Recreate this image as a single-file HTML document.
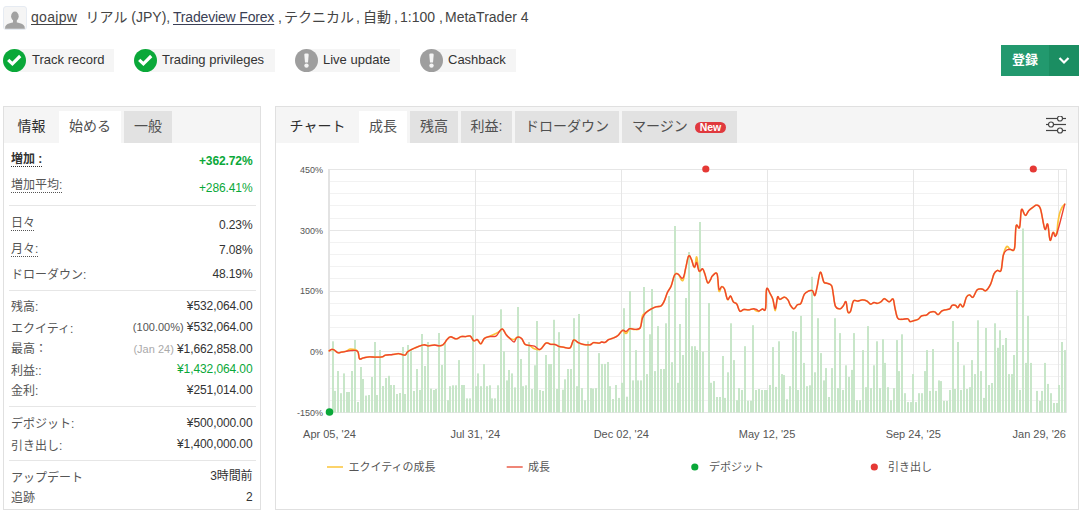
<!DOCTYPE html>
<html><head><meta charset="utf-8">
<style>
*{box-sizing:border-box;margin:0;padding:0}
html,body{width:1082px;height:515px;overflow:hidden;background:#fff}
body{position:relative;font-family:"Liberation Sans","Noto Sans CJK JP",sans-serif;color:#333;font-size:12px}
.a{position:absolute;white-space:nowrap}
.jp{font-family:"Noto Sans CJK JP","Liberation Sans",sans-serif}
.hd{top:8px;font-size:14px;line-height:18px;color:#444}
.hd u{text-decoration:underline;text-underline-offset:2px;text-decoration-skip-ink:none}
.badge{position:absolute;top:49px;height:23px;background:#f5f5f5}
.bic{position:absolute;top:49px;width:23px;height:23px;border-radius:50%}
.btxt{position:absolute;white-space:nowrap;top:48px;line-height:23px;font-size:13px;color:#333}
.panel{position:absolute;border:1px solid #e0e0e0;background:#fff}
.tabbar{position:absolute;left:0;right:0;top:0;height:36px;background:#f5f5f5}
.tab{position:absolute;white-space:nowrap;top:4px;height:32px;line-height:30px;font-size:14px;text-align:center;color:#505050}
.row{position:absolute;left:8px;width:240px;height:20px;line-height:20px}
.lb{position:absolute;left:11px;line-height:20px;color:#555;white-space:nowrap}
.vl{position:absolute;right:829.5px;line-height:20px;letter-spacing:-0.1px;color:#333;white-space:nowrap}
.sep{position:absolute;left:5px;width:247px;height:1px;background:#e6e6e6}
.dot{text-decoration:underline dotted;text-underline-offset:3px}
</style></head><body>
<!-- avatar -->
<div class="a" style="left:3px;top:6px;width:24px;height:24px;border:1px solid #e6ebf2;border-radius:3px;background:#f5f5f5"></div>
<svg class="a" style="left:0;top:0" width="30" height="32"><ellipse cx="14.9" cy="16.3" rx="3.8" ry="4.7" fill="#a2a2a2"/><path d="M5 28.7 L5.3 26.6 C5.8 24.2 8.5 23.3 12.5 22.4 L17.3 22.4 C21.3 23.3 24 24.2 24.5 26.6 L24.9 28.7 Z" fill="#a2a2a2"/><rect x="13" y="20" width="3.8" height="3" fill="#a2a2a2"/></svg>
<div class="a hd" style="left:31px;letter-spacing:0.3px"><u>qoajpw</u></div>
<div class="a hd" style="left:85.6px">リアル (JPY),</div>
<div class="a hd" style="left:173px;letter-spacing:-0.17px"><u style="color:#3b3f55">Tradeview Forex</u></div>
<div class="a hd" style="left:278px">,</div>
<div class="a hd" style="left:284px">テクニカル</div>
<div class="a hd" style="left:356px">,</div>
<div class="a hd" style="left:363px">自動</div>
<div class="a hd" style="left:394px">,</div>
<div class="a hd" style="left:400px">1:100</div>
<div class="a hd" style="left:439px">,</div>
<div class="a hd" style="left:445px">MetaTrader 4</div>

<!-- badges -->
<div class="badge" style="left:14px;width:100px"></div>
<div class="bic" style="left:3px;background:#0aa839"><svg width="23" height="23"><path d="M5.2 10.8 L9.4 14.8 L17.2 7" stroke="#fff" stroke-width="3.2" fill="none"/></svg></div>
<div class="btxt" style="left:32px">Track record</div>

<div class="badge" style="left:145px;width:130px"></div>
<div class="bic" style="left:134px;background:#0aa839"><svg width="23" height="23"><path d="M5.2 10.8 L9.4 14.8 L17.2 7" stroke="#fff" stroke-width="3.2" fill="none"/></svg></div>
<div class="btxt" style="left:162px">Trading privileges</div>

<div class="badge" style="left:306px;width:94px"></div>
<div class="bic" style="left:295px;background:#9e9e9e"><svg width="23" height="23"><path d="M9.3 5.8 Q9.3 4.4 10.7 4.4 L12.3 4.4 Q13.7 4.4 13.7 5.8 L13 13.6 L10 13.6 Z" fill="#f4f4f4"/><circle cx="11.5" cy="16.6" r="2.2" fill="#f4f4f4"/></svg></div>
<div class="btxt" style="left:323px">Live update</div>

<div class="badge" style="left:431px;width:85px"></div>
<div class="bic" style="left:420px;background:#9e9e9e"><svg width="23" height="23"><path d="M9.3 5.8 Q9.3 4.4 10.7 4.4 L12.3 4.4 Q13.7 4.4 13.7 5.8 L13 13.6 L10 13.6 Z" fill="#f4f4f4"/><circle cx="11.5" cy="16.6" r="2.2" fill="#f4f4f4"/></svg></div>
<div class="btxt" style="left:448px">Cashback</div>

<!-- register button -->
<div class="a" style="left:1001px;top:45px;width:48px;height:31px;background:#22996e;color:#fff;font-size:13px;font-weight:bold;line-height:28px;text-align:center" ><span class="jp">登録</span></div>
<div class="a" style="left:1049px;top:45px;width:30px;height:31px;background:#1b8e62"><svg width="30" height="31"><path d="M10.5 13 L15 17.5 L19.5 13" stroke="#fff" stroke-width="2.2" fill="none"/></svg></div>

<!-- left panel -->
<div class="panel" style="left:3px;top:106px;width:258px;height:404px">
 <div class="tabbar">
  <div class="tab" style="left:0;width:55px;color:#2e2e2e">情報</div>
  <div class="tab" style="left:55px;width:62px;background:#fff">始める</div>
  <div class="tab" style="left:120px;width:48px;background:#e2e2e2">一般</div>
 </div>
</div>
<div class="a" style="left:0;top:0;width:1082px;height:515px">
 <div class="lb" style="top:148.9px"><span class="dot" style="color:#333;font-weight:bold">増加 :</span></div><div class="vl" style="top:151.3px"><span style="color:#0aa839;font-weight:bold">+362.72%</span></div>
 <div class="lb" style="top:175.1px"><span class="dot">増加平均:</span></div><div class="vl" style="top:177.5px"><span style="color:#0aa839">+286.41%</span></div>
 <div class="lb" style="top:212.5px"><span class="dot">日々</span></div><div class="vl" style="top:214.5px">0.23%</div>
 <div class="lb" style="top:239.2px"><span class="dot">月々:</span></div><div class="vl" style="top:240.0px">7.08%</div>
 <div class="lb" style="top:264.9px">ドローダウン:</div><div class="vl" style="top:264.1px">48.19%</div>
 <div class="lb" style="top:297.2px">残高:</div><div class="vl" style="top:296.4px">¥532,064.00</div>
 <div class="lb" style="top:318.6px">エクイティ:</div><div class="vl" style="top:317.1px"><span style="color:#555;font-size:11px;letter-spacing:0">(100.00%)</span> ¥532,064.00</div>
 <div class="lb" style="top:338.8px">最高：</div><div class="vl" style="top:338.5px"><span style="color:#aaa;font-size:11px;letter-spacing:0">(Jan 24)</span> ¥1,662,858.00</div>
 <div class="lb" style="top:360.5px">利益::</div><div class="vl" style="top:358.9px"><span style="color:#0aa839">¥1,432,064.00</span></div>
 <div class="lb" style="top:380.9px">金利:</div><div class="vl" style="top:380.3px">¥251,014.00</div>
 <div class="lb" style="top:413.8px">デポジット:</div><div class="vl" style="top:413.1px">¥500,000.00</div>
 <div class="lb" style="top:435.7px">引き出し:</div><div class="vl" style="top:433.7px">¥1,400,000.00</div>
 <div class="lb" style="top:467.5px">アップデート</div><div class="vl" style="top:466.2px">3時間前</div>
 <div class="lb" style="top:488.2px">追跡</div><div class="vl" style="top:487.2px">2</div>
 <div class="sep" style="left:9px;top:205px"></div>
 <div class="sep" style="left:9px;top:290px"></div>
 <div class="sep" style="left:9px;top:406px"></div>
 <div class="sep" style="left:9px;top:460px"></div>
</div>
<!-- chart panel -->
<div class="panel" style="left:275px;top:106px;width:804px;height:404px">
 <div class="tabbar">
  <div class="tab" style="left:0;width:83px;color:#2e2e2e">チャート</div>
  <div class="tab" style="left:83px;width:48px;background:#fff">成長</div>
  <div class="tab" style="left:134px;width:48px;background:#e2e2e2">残高</div>
  <div class="tab" style="left:185px;width:51px;background:#e2e2e2">利益:</div>
  <div class="tab" style="left:239px;width:104px;background:#e2e2e2">ドローダウン</div>
  <div class="tab" style="left:346px;width:115px;background:#e2e2e2;text-align:left;padding-left:10px">マージン <span style="display:inline-block;background:#e0393e;color:#fff;font-size:10.5px;font-weight:bold;line-height:11px;height:11px;padding:0 5px;border-radius:5.5px;vertical-align:0px;margin-left:3px">New</span></div>
  <svg class="a" style="left:768.5px;top:9px" width="22" height="18"><g stroke="#444" stroke-width="1.2" fill="#fff"><line x1="1" y1="2.5" x2="21" y2="2.5"/><line x1="1" y1="8.5" x2="21" y2="8.5"/><line x1="1" y1="14.5" x2="21" y2="14.5"/><circle cx="15" cy="2.5" r="2.5"/><circle cx="6" cy="8.5" r="2.5"/><circle cx="15" cy="14.5" r="2.5"/></g></svg>
 </div>
</div>
<svg id="chart" class="a" style="left:0;top:0;font-family:'Liberation Sans','Noto Sans CJK JP',sans-serif" width="1082" height="515">
<line x1="329.5" x2="1066.5" y1="412.5" y2="412.5" stroke="#e6e6e6" stroke-width="1"/>
<line x1="329.5" x2="1066.5" y1="400.5" y2="400.5" stroke="#f2f2f2" stroke-width="1"/>
<line x1="329.5" x2="1066.5" y1="388.5" y2="388.5" stroke="#f2f2f2" stroke-width="1"/>
<line x1="329.5" x2="1066.5" y1="376.5" y2="376.5" stroke="#f2f2f2" stroke-width="1"/>
<line x1="329.5" x2="1066.5" y1="364.5" y2="364.5" stroke="#f2f2f2" stroke-width="1"/>
<line x1="329.5" x2="1066.5" y1="351.5" y2="351.5" stroke="#e6e6e6" stroke-width="1"/>
<line x1="329.5" x2="1066.5" y1="339.5" y2="339.5" stroke="#f2f2f2" stroke-width="1"/>
<line x1="329.5" x2="1066.5" y1="327.5" y2="327.5" stroke="#f2f2f2" stroke-width="1"/>
<line x1="329.5" x2="1066.5" y1="315.5" y2="315.5" stroke="#f2f2f2" stroke-width="1"/>
<line x1="329.5" x2="1066.5" y1="303.5" y2="303.5" stroke="#f2f2f2" stroke-width="1"/>
<line x1="329.5" x2="1066.5" y1="291.5" y2="291.5" stroke="#e6e6e6" stroke-width="1"/>
<line x1="329.5" x2="1066.5" y1="278.5" y2="278.5" stroke="#f2f2f2" stroke-width="1"/>
<line x1="329.5" x2="1066.5" y1="266.5" y2="266.5" stroke="#f2f2f2" stroke-width="1"/>
<line x1="329.5" x2="1066.5" y1="254.5" y2="254.5" stroke="#f2f2f2" stroke-width="1"/>
<line x1="329.5" x2="1066.5" y1="242.5" y2="242.5" stroke="#f2f2f2" stroke-width="1"/>
<line x1="329.5" x2="1066.5" y1="230.5" y2="230.5" stroke="#e6e6e6" stroke-width="1"/>
<line x1="329.5" x2="1066.5" y1="218.5" y2="218.5" stroke="#f2f2f2" stroke-width="1"/>
<line x1="329.5" x2="1066.5" y1="205.5" y2="205.5" stroke="#f2f2f2" stroke-width="1"/>
<line x1="329.5" x2="1066.5" y1="193.5" y2="193.5" stroke="#f2f2f2" stroke-width="1"/>
<line x1="329.5" x2="1066.5" y1="181.5" y2="181.5" stroke="#f2f2f2" stroke-width="1"/>
<line x1="329.5" x2="1066.5" y1="169.5" y2="169.5" stroke="#e6e6e6" stroke-width="1"/>
<line x1="475.5" x2="475.5" y1="169" y2="413" stroke="#e6e6e6" stroke-width="1"/>
<line x1="621.5" x2="621.5" y1="169" y2="413" stroke="#e6e6e6" stroke-width="1"/>
<line x1="767.5" x2="767.5" y1="169" y2="413" stroke="#e6e6e6" stroke-width="1"/>
<line x1="913.5" x2="913.5" y1="169" y2="413" stroke="#e6e6e6" stroke-width="1"/>
<line x1="1058.5" x2="1058.5" y1="169" y2="413" stroke="#e6e6e6" stroke-width="1"/>
<line x1="1066.5" x2="1066.5" y1="169" y2="413" stroke="#e6e6e6" stroke-width="1"/>
<line x1="329" x2="329" y1="169" y2="413" stroke="#e3e3e3" stroke-width="2"/>
<g fill="#c8e6c9"><rect x="332" y="341.3" width="2" height="71.2"/><rect x="334" y="390.9" width="2" height="21.6"/><rect x="337" y="371.0" width="2" height="41.5"/><rect x="340" y="393.2" width="2" height="19.3"/><rect x="343" y="373.4" width="2" height="39.1"/><rect x="346" y="392.0" width="2" height="20.5"/><rect x="348" y="392.0" width="2" height="20.5"/><rect x="351" y="371.0" width="2" height="41.5"/><rect x="354" y="340.0" width="2" height="72.5"/><rect x="357" y="402.0" width="2" height="10.5"/><rect x="360" y="367.0" width="2" height="45.5"/><rect x="362" y="379.0" width="2" height="33.5"/><rect x="365" y="395.6" width="2" height="16.9"/><rect x="368" y="395.0" width="2" height="17.5"/><rect x="371" y="377.0" width="2" height="35.5"/><rect x="374" y="342.0" width="2" height="70.5"/><rect x="376" y="395.0" width="2" height="17.5"/><rect x="379" y="350.0" width="2" height="62.5"/><rect x="382" y="386.0" width="2" height="26.5"/><rect x="385" y="378.0" width="2" height="34.5"/><rect x="388" y="375.8" width="2" height="36.7"/><rect x="390" y="385.0" width="2" height="27.5"/><rect x="393" y="385.0" width="2" height="27.5"/><rect x="396" y="394.0" width="2" height="18.5"/><rect x="399" y="393.0" width="2" height="19.5"/><rect x="402" y="347.0" width="2" height="65.5"/><rect x="404" y="394.0" width="2" height="18.5"/><rect x="407" y="345.0" width="2" height="67.5"/><rect x="410" y="349.0" width="2" height="63.5"/><rect x="413" y="391.0" width="2" height="21.5"/><rect x="416" y="369.0" width="2" height="43.5"/><rect x="419" y="390.0" width="2" height="22.5"/><rect x="421" y="334.0" width="2" height="78.5"/><rect x="424" y="366.0" width="2" height="46.5"/><rect x="427" y="342.0" width="2" height="70.5"/><rect x="430" y="388.6" width="2" height="23.9"/><rect x="433" y="390.0" width="2" height="22.5"/><rect x="435" y="389.0" width="2" height="23.5"/><rect x="438" y="333.0" width="2" height="79.5"/><rect x="441" y="365.0" width="2" height="47.5"/><rect x="444" y="342.0" width="2" height="70.5"/><rect x="447" y="400.2" width="2" height="12.3"/><rect x="449" y="386.2" width="2" height="26.3"/><rect x="452" y="385.3" width="2" height="27.2"/><rect x="455" y="385.3" width="2" height="27.2"/><rect x="458" y="360.1" width="2" height="52.4"/><rect x="461" y="385.0" width="2" height="27.5"/><rect x="463" y="385.0" width="2" height="27.5"/><rect x="466" y="398.4" width="2" height="14.1"/><rect x="469" y="398.4" width="2" height="14.1"/><rect x="472" y="315.2" width="2" height="97.3"/><rect x="475" y="386.2" width="2" height="26.3"/><rect x="477" y="373.4" width="2" height="39.1"/><rect x="480" y="386.2" width="2" height="26.3"/><rect x="483" y="364.1" width="2" height="48.4"/><rect x="486" y="386.2" width="2" height="26.3"/><rect x="489" y="385.3" width="2" height="27.2"/><rect x="491" y="398.4" width="2" height="14.1"/><rect x="494" y="398.4" width="2" height="14.1"/><rect x="497" y="385.3" width="2" height="27.2"/><rect x="500" y="309.3" width="2" height="103.2"/><rect x="503" y="351.3" width="2" height="61.2"/><rect x="506" y="380.4" width="2" height="32.1"/><rect x="508" y="370.0" width="2" height="42.5"/><rect x="511" y="373.4" width="2" height="39.1"/><rect x="514" y="387.4" width="2" height="25.1"/><rect x="517" y="307.0" width="2" height="105.5"/><rect x="520" y="359.0" width="2" height="53.5"/><rect x="522" y="386.2" width="2" height="26.3"/><rect x="525" y="385.3" width="2" height="27.2"/><rect x="528" y="342.0" width="2" height="70.5"/><rect x="531" y="389.0" width="2" height="23.5"/><rect x="534" y="365.3" width="2" height="47.2"/><rect x="536" y="321.0" width="2" height="91.5"/><rect x="539" y="390.0" width="2" height="22.5"/><rect x="542" y="391.0" width="2" height="21.5"/><rect x="545" y="355.0" width="2" height="57.5"/><rect x="548" y="364.0" width="2" height="48.5"/><rect x="550" y="364.0" width="2" height="48.5"/><rect x="553" y="319.8" width="2" height="92.7"/><rect x="556" y="389.0" width="2" height="23.5"/><rect x="558" y="332.2" width="2" height="80.3"/><rect x="562" y="389.7" width="2" height="22.8"/><rect x="564" y="379.3" width="2" height="33.2"/><rect x="567" y="369.0" width="2" height="43.5"/><rect x="570" y="369.0" width="2" height="43.5"/><rect x="573" y="318.2" width="2" height="94.3"/><rect x="576" y="386.2" width="2" height="26.3"/><rect x="578" y="314.0" width="2" height="98.5"/><rect x="581" y="388.1" width="2" height="24.4"/><rect x="584" y="400.2" width="2" height="12.3"/><rect x="587" y="341.3" width="2" height="71.2"/><rect x="590" y="388.1" width="2" height="24.4"/><rect x="592" y="388.6" width="2" height="23.9"/><rect x="595" y="388.1" width="2" height="24.4"/><rect x="598" y="353.1" width="2" height="59.4"/><rect x="601" y="363.9" width="2" height="48.6"/><rect x="604" y="363.9" width="2" height="48.6"/><rect x="607" y="362.0" width="2" height="50.5"/><rect x="609" y="386.2" width="2" height="26.3"/><rect x="612" y="399.0" width="2" height="13.5"/><rect x="615" y="385.0" width="2" height="27.5"/><rect x="618" y="397.9" width="2" height="14.6"/><rect x="621" y="382.8" width="2" height="29.7"/><rect x="623" y="308.2" width="2" height="104.3"/><rect x="626" y="396.7" width="2" height="15.8"/><rect x="629" y="291.0" width="2" height="121.5"/><rect x="632" y="380.4" width="2" height="32.1"/><rect x="635" y="350.1" width="2" height="62.4"/><rect x="637" y="380.4" width="2" height="32.1"/><rect x="640" y="380.4" width="2" height="32.1"/><rect x="643" y="287.0" width="2" height="125.5"/><rect x="646" y="374.1" width="2" height="38.4"/><rect x="649" y="334.3" width="2" height="78.2"/><rect x="651" y="289.0" width="2" height="123.5"/><rect x="654" y="371.1" width="2" height="41.4"/><rect x="657" y="326.1" width="2" height="86.4"/><rect x="660" y="369.0" width="2" height="43.5"/><rect x="663" y="369.0" width="2" height="43.5"/><rect x="665" y="323.3" width="2" height="89.2"/><rect x="668" y="296.0" width="2" height="116.5"/><rect x="671" y="362.2" width="2" height="50.3"/><rect x="674" y="226.0" width="2" height="186.5"/><rect x="677" y="382.8" width="2" height="29.7"/><rect x="679" y="324.0" width="2" height="88.5"/><rect x="682" y="355.0" width="2" height="57.5"/><rect x="685" y="298.0" width="2" height="114.5"/><rect x="688" y="252.0" width="2" height="160.5"/><rect x="691" y="346.2" width="2" height="66.3"/><rect x="694" y="346.2" width="2" height="66.3"/><rect x="696" y="350.1" width="2" height="62.4"/><rect x="699" y="222.0" width="2" height="190.5"/><rect x="702" y="351.7" width="2" height="60.8"/><rect x="708" y="303.0" width="2" height="109.5"/><rect x="710" y="382.8" width="2" height="29.7"/><rect x="713" y="381.1" width="2" height="31.4"/><rect x="716" y="397.0" width="2" height="15.5"/><rect x="719" y="397.0" width="2" height="15.5"/><rect x="722" y="356.0" width="2" height="56.5"/><rect x="724" y="397.9" width="2" height="14.6"/><rect x="727" y="372.3" width="2" height="40.2"/><rect x="730" y="323.3" width="2" height="89.2"/><rect x="733" y="360.1" width="2" height="52.4"/><rect x="736" y="400.2" width="2" height="12.3"/><rect x="738" y="388.1" width="2" height="24.4"/><rect x="741" y="390.0" width="2" height="22.5"/><rect x="744" y="346.2" width="2" height="66.3"/><rect x="747" y="400.7" width="2" height="11.8"/><rect x="750" y="400.7" width="2" height="11.8"/><rect x="752" y="325.2" width="2" height="87.3"/><rect x="755" y="390.0" width="2" height="22.5"/><rect x="758" y="389.0" width="2" height="23.5"/><rect x="761" y="390.0" width="2" height="22.5"/><rect x="764" y="390.0" width="2" height="22.5"/><rect x="766" y="390.0" width="2" height="22.5"/><rect x="769" y="385.0" width="2" height="27.5"/><rect x="772" y="347.1" width="2" height="65.4"/><rect x="775" y="386.9" width="2" height="25.6"/><rect x="778" y="341.3" width="2" height="71.2"/><rect x="781" y="374.1" width="2" height="38.4"/><rect x="783" y="375.1" width="2" height="37.4"/><rect x="786" y="399.3" width="2" height="13.2"/><rect x="789" y="386.2" width="2" height="26.3"/><rect x="792" y="331.0" width="2" height="81.5"/><rect x="795" y="331.9" width="2" height="80.6"/><rect x="797" y="390.0" width="2" height="22.5"/><rect x="800" y="315.9" width="2" height="96.6"/><rect x="803" y="362.9" width="2" height="49.6"/><rect x="806" y="386.2" width="2" height="26.3"/><rect x="809" y="385.3" width="2" height="27.2"/><rect x="811" y="276.8" width="2" height="135.7"/><rect x="814" y="372.3" width="2" height="40.2"/><rect x="817" y="318.2" width="2" height="94.3"/><rect x="820" y="353.1" width="2" height="59.4"/><rect x="823" y="380.4" width="2" height="32.1"/><rect x="825" y="368.1" width="2" height="44.4"/><rect x="828" y="397.0" width="2" height="15.5"/><rect x="831" y="368.1" width="2" height="44.4"/><rect x="834" y="318.2" width="2" height="94.3"/><rect x="837" y="388.1" width="2" height="24.4"/><rect x="839" y="333.1" width="2" height="79.4"/><rect x="842" y="390.0" width="2" height="22.5"/><rect x="845" y="365.3" width="2" height="47.2"/><rect x="848" y="376.9" width="2" height="35.6"/><rect x="851" y="369.9" width="2" height="42.6"/><rect x="853" y="333.1" width="2" height="79.4"/><rect x="856" y="400.2" width="2" height="12.3"/><rect x="859" y="400.2" width="2" height="12.3"/><rect x="862" y="350.1" width="2" height="62.4"/><rect x="865" y="387.2" width="2" height="25.3"/><rect x="867" y="326.1" width="2" height="86.4"/><rect x="870" y="388.1" width="2" height="24.4"/><rect x="873" y="365.3" width="2" height="47.2"/><rect x="876" y="341.3" width="2" height="71.2"/><rect x="879" y="388.1" width="2" height="24.4"/><rect x="882" y="339.2" width="2" height="73.3"/><rect x="884" y="362.9" width="2" height="49.6"/><rect x="887" y="387.2" width="2" height="25.3"/><rect x="890" y="400.2" width="2" height="12.3"/><rect x="893" y="388.1" width="2" height="24.4"/><rect x="896" y="340.1" width="2" height="72.4"/><rect x="898" y="371.1" width="2" height="41.4"/><rect x="901" y="334.3" width="2" height="78.2"/><rect x="904" y="393.2" width="2" height="19.3"/><rect x="907" y="402.1" width="2" height="10.4"/><rect x="910" y="402.1" width="2" height="10.4"/><rect x="912" y="374.1" width="2" height="38.4"/><rect x="915" y="402.1" width="2" height="10.4"/><rect x="918" y="393.2" width="2" height="19.3"/><rect x="921" y="393.2" width="2" height="19.3"/><rect x="924" y="371.1" width="2" height="41.4"/><rect x="926" y="350.1" width="2" height="62.4"/><rect x="929" y="390.9" width="2" height="21.6"/><rect x="932" y="349.0" width="2" height="63.5"/><rect x="935" y="390.9" width="2" height="21.6"/><rect x="938" y="380.4" width="2" height="32.1"/><rect x="940" y="381.1" width="2" height="31.4"/><rect x="943" y="400.9" width="2" height="11.6"/><rect x="946" y="400.9" width="2" height="11.6"/><rect x="949" y="390.0" width="2" height="22.5"/><rect x="952" y="321.0" width="2" height="91.5"/><rect x="954" y="389.0" width="2" height="23.5"/><rect x="957" y="342.0" width="2" height="70.5"/><rect x="960" y="390.0" width="2" height="22.5"/><rect x="963" y="365.3" width="2" height="47.2"/><rect x="966" y="389.0" width="2" height="23.5"/><rect x="969" y="387.2" width="2" height="25.3"/><rect x="971" y="360.1" width="2" height="52.4"/><rect x="974" y="374.1" width="2" height="38.4"/><rect x="977" y="320.3" width="2" height="92.2"/><rect x="980" y="371.1" width="2" height="41.4"/><rect x="983" y="397.9" width="2" height="14.6"/><rect x="985" y="328.0" width="2" height="84.5"/><rect x="988" y="385.0" width="2" height="27.5"/><rect x="991" y="383.0" width="2" height="29.5"/><rect x="994" y="323.3" width="2" height="89.2"/><rect x="997" y="347.8" width="2" height="64.7"/><rect x="999" y="330.3" width="2" height="82.2"/><rect x="1002" y="345.0" width="2" height="67.5"/><rect x="1005" y="338.0" width="2" height="74.5"/><rect x="1008" y="374.1" width="2" height="38.4"/><rect x="1011" y="374.1" width="2" height="38.4"/><rect x="1013" y="355.0" width="2" height="57.5"/><rect x="1016" y="290.2" width="2" height="122.3"/><rect x="1019" y="390.0" width="2" height="22.5"/><rect x="1022" y="228.5" width="2" height="184.0"/><rect x="1025" y="362.9" width="2" height="49.6"/><rect x="1027" y="315.9" width="2" height="96.6"/><rect x="1030" y="362.9" width="2" height="49.6"/><rect x="1036" y="390.9" width="2" height="21.6"/><rect x="1039" y="400.9" width="2" height="11.6"/><rect x="1041" y="390.9" width="2" height="21.6"/><rect x="1044" y="362.9" width="2" height="49.6"/><rect x="1047" y="383.9" width="2" height="28.6"/><rect x="1050" y="393.2" width="2" height="19.3"/><rect x="1053" y="403.0" width="2" height="9.5"/><rect x="1056" y="403.0" width="2" height="9.5"/><rect x="1058" y="385.0" width="2" height="27.5"/><rect x="1061" y="342.0" width="2" height="70.5"/><rect x="1064" y="350.1" width="2" height="62.4"/></g>
<text x="323" y="172.7" text-anchor="end" font-size="9" fill="#555">450%</text>
<text x="323" y="233.5" text-anchor="end" font-size="9" fill="#555">300%</text>
<text x="323" y="294.3" text-anchor="end" font-size="9" fill="#555">150%</text>
<text x="323" y="355.1" text-anchor="end" font-size="9" fill="#555">0%</text>
<text x="323" y="415.9" text-anchor="end" font-size="9" fill="#555">-150%</text>
<path d="M329.2,350.8 C329.7,350.5 331.1,349.5 332.0,349.4 C332.9,349.3 333.3,349.4 334.3,350.0 C335.3,350.6 336.5,352.3 337.8,352.7 C339.1,353.1 339.8,352.5 341.3,352.2 C342.8,351.9 344.3,351.8 346.0,351.3 C347.7,350.8 348.5,349.2 350.6,349.2 C352.7,349.2 356.0,349.6 357.6,351.3 C359.2,353.0 358.4,357.5 359.5,358.7 C360.6,359.9 361.7,358.1 363.5,357.8 C365.3,357.5 367.2,357.0 369.3,356.9 C371.4,356.8 372.7,357.1 375.0,357.1 C377.3,357.1 380.1,357.2 382.0,356.9 C383.9,356.6 383.7,355.6 385.6,355.2 C387.5,354.8 390.3,354.8 392.6,354.5 C394.9,354.2 396.7,353.6 398.4,353.6 C400.1,353.6 400.7,354.2 402.0,354.5 C403.3,354.8 404.4,355.5 405.4,355.0 C406.4,354.5 406.2,352.9 407.7,351.7 C409.2,350.5 411.7,349.4 413.6,348.5 C415.5,347.6 416.3,347.3 418.2,346.6 C420.1,345.9 422.1,344.9 424.0,344.8 C425.9,344.7 426.8,345.9 428.7,345.9 C430.6,345.9 432.7,345.0 434.6,345.0 C436.5,345.0 437.7,345.9 439.2,345.9 C440.7,345.9 441.7,345.6 442.7,345.0 C443.7,344.4 444.2,343.5 445.0,342.5 C445.8,341.5 446.0,340.6 447.0,339.6 C448.0,338.6 448.8,336.9 450.5,336.8 C452.2,336.7 454.4,338.9 456.3,338.9 C458.2,338.9 459.3,337.0 461.0,336.6 C462.7,336.2 463.9,336.7 465.6,336.6 C467.3,336.5 468.8,335.3 470.3,336.1 C471.8,336.9 472.5,340.2 473.8,340.8 C475.1,341.4 476.0,339.1 477.3,339.6 C478.6,340.1 479.5,344.0 480.8,343.8 C482.1,343.6 482.8,339.8 484.3,338.5 C485.8,337.2 486.9,337.5 489.0,336.6 C491.1,335.7 494.1,334.4 496.0,333.5 C497.9,332.6 498.2,332.3 499.4,331.5 C500.6,330.7 501.2,328.5 502.5,329.1 C503.8,329.7 505.0,333.3 506.4,335.0 C507.8,336.7 508.6,337.7 510.0,338.5 C511.4,339.3 512.8,339.7 514.1,339.5 C515.4,339.3 515.6,337.5 517.0,337.3 C518.4,337.1 520.2,337.2 521.6,338.5 C523.0,339.8 523.5,343.0 525.0,344.3 C526.5,345.6 528.0,344.7 529.7,345.5 C531.4,346.3 532.5,348.1 534.4,348.8 C536.3,349.5 538.1,350.4 540.2,349.4 C542.3,348.4 544.1,344.0 546.0,343.1 C547.9,342.2 549.1,344.0 550.7,344.3 C552.3,344.6 553.4,344.1 555.0,344.5 C556.6,344.9 558.0,346.1 559.7,346.6 C561.4,347.1 562.4,347.1 564.3,347.3 C566.2,347.5 568.5,349.1 570.2,347.8 C571.9,346.5 572.1,341.0 573.6,340.1 C575.1,339.2 576.6,341.9 578.3,342.7 C580.0,343.5 580.9,343.9 583.0,344.3 C585.1,344.7 588.1,345.1 590.0,344.8 C591.9,344.5 591.8,343.0 593.5,342.7 C595.2,342.4 597.8,343.2 599.3,343.1 C600.8,343.0 600.6,342.1 601.6,342.0 C602.6,341.9 603.8,342.8 605.1,342.4 C606.4,342.0 607.1,340.4 608.6,339.6 C610.1,338.8 611.6,338.8 613.3,338.0 C615.0,337.2 616.3,336.8 618.0,335.4 C619.7,334.0 621.1,330.6 622.6,330.3 C624.1,330.0 624.8,333.8 626.1,333.5 C627.4,333.2 628.1,329.4 629.6,328.7 C631.1,328.0 632.4,329.5 634.3,329.4 C636.2,329.3 638.6,330.4 640.1,328.0 C641.6,325.6 641.4,318.7 642.4,316.0 C643.4,313.3 644.1,314.2 645.5,313.0 C646.9,311.8 648.2,310.7 650.1,309.6 C652.0,308.5 654.0,307.4 656.0,306.8 C658.0,306.2 659.5,307.0 661.0,306.0 C662.5,305.0 662.9,303.9 664.1,301.4 C665.3,298.9 666.3,294.8 667.6,292.1 C668.9,289.4 669.8,289.3 671.1,286.2 C672.4,283.1 673.3,277.2 674.6,275.0 C675.9,272.8 676.6,273.1 678.1,274.1 C679.6,275.1 681.4,281.7 682.8,280.5 C684.2,279.3 684.8,272.0 685.8,267.6 C686.8,263.2 687.6,257.5 688.6,256.0 C689.6,254.5 690.5,257.5 691.4,259.4 C692.3,261.3 693.0,265.1 693.7,266.4 C694.4,267.7 694.6,268.1 695.1,266.4 C695.6,264.7 696.0,256.2 696.7,257.0 C697.4,257.8 698.0,269.0 699.1,271.1 C700.2,273.2 701.6,268.3 702.6,268.8 C703.6,269.3 704.0,271.6 704.9,274.1 C705.8,276.6 706.7,281.9 707.7,282.8 C708.7,283.7 709.9,280.5 710.7,279.3 C711.5,278.1 711.2,277.1 712.3,276.1 C713.4,275.1 715.8,271.1 717.0,273.8 C718.2,276.5 718.1,288.7 718.9,291.0 C719.7,293.3 720.7,287.0 721.7,286.6 C722.7,286.2 723.5,286.7 724.5,289.0 C725.5,291.3 726.4,298.1 727.5,299.4 C728.6,300.7 729.5,295.6 730.5,296.0 C731.5,296.4 732.2,300.3 733.3,301.8 C734.4,303.3 735.6,302.4 736.8,304.1 C738.0,305.8 738.5,310.1 739.8,311.1 C741.1,312.1 742.2,309.7 743.8,309.5 C745.4,309.3 746.8,310.0 748.5,309.9 C750.2,309.8 751.6,308.6 753.1,308.8 C754.6,309.0 755.5,310.6 756.6,311.0 C757.7,311.4 758.0,311.5 759.0,311.1 C760.0,310.7 761.2,309.4 762.4,309.0 C763.6,308.6 764.7,312.4 765.5,308.8 C766.3,305.2 765.8,291.7 766.6,289.0 C767.4,286.3 769.0,291.7 770.1,293.6 C771.2,295.5 772.0,296.4 772.9,299.4 C773.8,302.4 774.5,310.9 775.3,310.5 C776.1,310.1 776.8,299.1 777.6,297.1 C778.4,295.1 778.6,299.4 779.9,299.4 C781.2,299.4 783.1,297.0 784.6,297.1 C786.1,297.2 787.1,298.6 788.1,300.1 C789.1,301.6 789.4,303.7 790.4,305.3 C791.4,306.9 792.6,308.9 793.9,308.8 C795.2,308.7 796.1,305.8 797.4,304.8 C798.7,303.8 799.6,305.3 800.9,303.4 C802.2,301.5 802.9,296.4 804.4,294.1 C805.9,291.8 807.6,291.4 809.1,290.8 C810.6,290.2 811.6,290.0 812.6,290.8 C813.6,291.6 814.1,296.3 814.9,295.5 C815.7,294.7 816.2,290.8 817.2,286.6 C818.2,282.4 819.1,273.0 820.3,272.2 C821.5,271.4 822.7,280.0 823.8,282.0 C824.9,284.0 825.2,282.5 826.6,283.1 C828.0,283.7 830.3,283.6 831.5,285.5 C832.7,287.4 832.5,289.8 833.2,293.6 C833.9,297.4 834.2,303.7 835.5,306.4 C836.8,309.1 838.7,309.0 840.2,308.8 C841.7,308.6 842.6,306.6 843.6,305.3 C844.6,304.0 845.2,300.6 846.0,301.8 C846.8,303.0 847.0,310.1 847.8,311.8 C848.6,313.5 849.6,313.0 850.6,311.1 C851.6,309.2 852.1,302.9 853.4,301.1 C854.7,299.3 856.0,301.3 857.6,301.1 C859.2,300.9 860.6,299.9 862.3,299.9 C864.0,299.9 865.5,300.3 867.0,301.1 C868.5,301.9 869.2,303.8 870.5,304.1 C871.8,304.4 872.8,302.6 874.0,302.5 C875.2,302.4 876.1,303.5 877.4,303.4 C878.7,303.3 879.7,302.6 881.0,301.8 C882.3,301.0 882.9,298.7 884.4,298.7 C885.9,298.7 887.5,301.7 889.1,301.8 C890.7,301.9 892.1,298.0 893.1,299.0 C894.1,300.0 894.1,304.2 894.9,307.6 C895.7,311.0 896.4,316.0 897.7,318.1 C899.0,320.2 900.1,319.2 901.9,319.3 C903.7,319.4 906.3,318.4 907.8,318.8 C909.3,319.2 908.9,321.3 910.1,321.6 C911.3,321.9 913.2,320.8 914.7,320.4 C916.2,320.0 916.9,320.1 918.2,319.3 C919.5,318.5 920.2,316.6 921.7,315.8 C923.2,315.0 924.9,315.7 926.4,315.1 C927.9,314.5 928.4,312.9 929.9,312.3 C931.4,311.7 933.1,311.4 934.6,311.8 C936.1,312.2 936.8,314.7 938.1,314.6 C939.4,314.5 940.4,311.9 941.6,311.1 C942.8,310.3 943.5,310.3 945.0,309.9 C946.5,309.5 948.4,309.7 949.7,308.9 C951.0,308.1 951.0,306.0 952.0,305.4 C953.0,304.8 954.5,305.0 955.5,305.4 C956.5,305.8 957.0,307.9 957.8,307.7 C958.6,307.5 959.2,304.4 960.2,304.2 C961.2,304.0 962.1,307.9 963.2,306.6 C964.3,305.3 965.3,299.3 966.4,297.2 C967.5,295.1 968.3,294.9 969.5,294.9 C970.7,294.9 971.6,298.1 973.0,297.2 C974.4,296.3 975.5,291.3 977.2,289.8 C978.9,288.3 980.8,288.9 982.3,289.1 C983.8,289.3 984.3,291.5 985.8,290.7 C987.3,289.9 989.0,287.4 990.5,284.4 C992.0,281.4 992.8,276.4 994.0,273.9 C995.2,271.4 996.1,271.0 997.4,270.4 C998.7,269.8 999.9,273.1 1001.0,270.4 C1002.1,267.7 1002.3,259.6 1003.3,255.3 C1004.3,251.0 1005.5,247.6 1006.8,246.5 C1008.1,245.4 1008.9,249.1 1010.3,249.4 C1011.7,249.7 1013.5,252.5 1014.5,248.3 C1015.5,244.1 1015.2,229.9 1016.1,226.1 C1017.0,222.3 1018.6,230.3 1019.6,227.3 C1020.6,224.3 1020.5,211.7 1021.5,209.6 C1022.5,207.5 1024.0,215.2 1025.3,215.4 C1026.6,215.6 1027.4,212.0 1028.9,210.5 C1030.4,209.0 1032.2,207.8 1033.6,206.8 C1035.0,205.8 1035.3,204.9 1036.5,205.2 C1037.7,205.5 1038.9,204.3 1040.4,208.6 C1041.9,212.9 1043.5,226.2 1044.8,229.0 C1046.1,231.8 1046.7,222.2 1047.7,224.2 C1048.7,226.2 1049.1,238.7 1050.1,240.2 C1051.1,241.7 1051.9,233.4 1053.0,232.4 C1054.1,231.4 1055.5,236.7 1056.4,234.8 C1057.3,232.9 1057.4,225.8 1058.0,222.0 C1058.6,218.2 1058.9,216.1 1059.6,213.5 C1060.3,210.9 1061.1,209.2 1062.0,207.5 C1062.9,205.8 1064.2,204.8 1064.7,204.2" fill="none" stroke="#fcc33a" stroke-width="1.7" stroke-linejoin="round" stroke-linecap="round"/>
<path d="M329.2,350.8 C329.7,350.5 331.1,349.5 332.0,349.4 C332.9,349.3 333.3,349.4 334.3,350.0 C335.3,350.6 336.5,352.3 337.8,352.7 C339.1,353.1 339.8,352.5 341.3,352.2 C342.8,351.9 344.3,351.6 346.0,351.3 C347.7,351.0 348.5,350.6 350.6,350.6 C352.7,350.6 356.0,349.8 357.6,351.3 C359.2,352.8 358.4,357.5 359.5,358.7 C360.6,359.9 361.7,358.1 363.5,357.8 C365.3,357.5 367.2,357.0 369.3,356.9 C371.4,356.8 372.7,357.1 375.0,357.1 C377.3,357.1 380.1,357.2 382.0,356.9 C383.9,356.6 383.7,355.6 385.6,355.2 C387.5,354.8 390.3,354.8 392.6,354.5 C394.9,354.2 396.7,353.6 398.4,353.6 C400.1,353.6 400.7,354.2 402.0,354.5 C403.3,354.8 404.4,355.5 405.4,355.0 C406.4,354.5 406.2,352.9 407.7,351.7 C409.2,350.5 411.7,349.4 413.6,348.5 C415.5,347.6 416.3,347.3 418.2,346.6 C420.1,345.9 422.1,344.9 424.0,344.8 C425.9,344.7 426.8,345.9 428.7,345.9 C430.6,345.9 432.7,345.0 434.6,345.0 C436.5,345.0 437.7,345.9 439.2,345.9 C440.7,345.9 441.7,345.6 442.7,345.0 C443.7,344.4 444.2,343.5 445.0,342.5 C445.8,341.5 446.0,340.6 447.0,339.6 C448.0,338.6 448.8,336.9 450.5,336.8 C452.2,336.7 454.4,338.9 456.3,338.9 C458.2,338.9 459.3,337.0 461.0,336.6 C462.7,336.2 463.9,336.7 465.6,336.6 C467.3,336.5 468.8,335.3 470.3,336.1 C471.8,336.9 472.5,340.2 473.8,340.8 C475.1,341.4 476.0,339.1 477.3,339.6 C478.6,340.1 479.5,344.0 480.8,343.8 C482.1,343.6 482.8,339.8 484.3,338.5 C485.8,337.2 486.9,337.0 489.0,336.6 C491.1,336.2 494.1,337.0 496.0,336.1 C497.9,335.2 498.2,332.8 499.4,331.5 C500.6,330.2 501.2,328.5 502.5,329.1 C503.8,329.7 505.0,333.3 506.4,335.0 C507.8,336.7 508.6,337.2 510.0,338.5 C511.4,339.8 512.8,342.2 514.1,342.0 C515.4,341.8 515.6,337.9 517.0,337.3 C518.4,336.7 520.2,337.2 521.6,338.5 C523.0,339.8 523.5,343.0 525.0,344.3 C526.5,345.6 528.0,345.2 529.7,345.5 C531.4,345.8 532.5,345.5 534.4,346.2 C536.3,346.9 538.1,350.0 540.2,349.4 C542.3,348.8 544.1,344.0 546.0,343.1 C547.9,342.2 549.1,344.0 550.7,344.3 C552.3,344.6 553.4,344.1 555.0,344.5 C556.6,344.9 558.0,346.1 559.7,346.6 C561.4,347.1 562.4,347.1 564.3,347.3 C566.2,347.5 568.5,349.1 570.2,347.8 C571.9,346.5 572.1,341.0 573.6,340.1 C575.1,339.2 576.6,341.9 578.3,342.7 C580.0,343.5 580.9,343.9 583.0,344.3 C585.1,344.7 588.1,345.1 590.0,344.8 C591.9,344.5 591.8,343.0 593.5,342.7 C595.2,342.4 597.8,343.2 599.3,343.1 C600.8,343.0 600.6,342.1 601.6,342.0 C602.6,341.9 603.8,342.8 605.1,342.4 C606.4,342.0 607.1,340.4 608.6,339.6 C610.1,338.8 611.6,338.8 613.3,338.0 C615.0,337.2 616.3,336.8 618.0,335.4 C619.7,334.0 621.1,331.0 622.6,330.3 C624.1,329.6 624.8,331.8 626.1,331.5 C627.4,331.2 628.1,329.1 629.6,328.7 C631.1,328.3 632.4,329.5 634.3,329.4 C636.2,329.3 638.6,329.9 640.1,328.0 C641.6,326.1 641.4,321.3 642.4,318.6 C643.4,315.9 644.1,314.6 645.5,313.0 C646.9,311.4 648.2,310.7 650.1,309.6 C652.0,308.5 654.0,307.4 656.0,306.8 C658.0,306.2 659.5,307.0 661.0,306.0 C662.5,305.0 662.9,303.9 664.1,301.4 C665.3,298.9 666.3,294.8 667.6,292.1 C668.9,289.4 669.8,289.3 671.1,286.2 C672.4,283.1 673.3,277.2 674.6,275.0 C675.9,272.8 676.6,273.5 678.1,274.1 C679.6,274.7 681.4,279.3 682.8,278.1 C684.2,276.9 684.8,271.6 685.8,267.6 C686.8,263.6 687.6,257.5 688.6,256.0 C689.6,254.5 690.5,257.5 691.4,259.4 C692.3,261.3 693.0,265.1 693.7,266.4 C694.4,267.7 694.6,267.1 695.1,266.4 C695.6,265.7 696.0,261.7 696.7,262.5 C697.4,263.3 698.0,270.0 699.1,271.1 C700.2,272.2 701.6,268.3 702.6,268.8 C703.6,269.3 704.0,271.6 704.9,274.1 C705.8,276.6 706.7,281.9 707.7,282.8 C708.7,283.7 709.9,280.5 710.7,279.3 C711.5,278.1 711.2,277.1 712.3,276.1 C713.4,275.1 715.8,271.5 717.0,273.8 C718.2,276.1 718.1,286.7 718.9,289.0 C719.7,291.3 720.7,286.6 721.7,286.6 C722.7,286.6 723.5,286.7 724.5,289.0 C725.5,291.3 726.4,298.1 727.5,299.4 C728.6,300.7 729.5,295.6 730.5,296.0 C731.5,296.4 732.2,300.3 733.3,301.8 C734.4,303.3 735.6,302.4 736.8,304.1 C738.0,305.8 738.5,310.1 739.8,311.1 C741.1,312.1 742.2,309.7 743.8,309.5 C745.4,309.3 746.8,310.0 748.5,309.9 C750.2,309.8 751.6,308.9 753.1,308.8 C754.6,308.7 755.5,309.1 756.6,309.5 C757.7,309.9 758.0,311.2 759.0,311.1 C760.0,311.0 761.2,309.4 762.4,309.0 C763.6,308.6 764.7,312.4 765.5,308.8 C766.3,305.2 765.8,291.7 766.6,289.0 C767.4,286.3 769.0,291.7 770.1,293.6 C771.2,295.5 772.0,296.7 772.9,299.4 C773.8,302.1 774.5,309.2 775.3,308.8 C776.1,308.4 776.8,298.8 777.6,297.1 C778.4,295.4 778.6,299.4 779.9,299.4 C781.2,299.4 783.1,297.0 784.6,297.1 C786.1,297.2 787.1,298.6 788.1,300.1 C789.1,301.6 789.4,303.7 790.4,305.3 C791.4,306.9 792.6,308.9 793.9,308.8 C795.2,308.7 796.1,305.8 797.4,304.8 C798.7,303.8 799.6,305.3 800.9,303.4 C802.2,301.5 802.9,296.4 804.4,294.1 C805.9,291.8 807.6,291.4 809.1,290.8 C810.6,290.2 811.6,290.0 812.6,290.8 C813.6,291.6 814.1,296.3 814.9,295.5 C815.7,294.7 816.2,290.8 817.2,286.6 C818.2,282.4 819.1,273.0 820.3,272.2 C821.5,271.4 822.7,280.0 823.8,282.0 C824.9,284.0 825.2,282.5 826.6,283.1 C828.0,283.7 830.3,283.6 831.5,285.5 C832.7,287.4 832.5,289.8 833.2,293.6 C833.9,297.4 834.2,303.7 835.5,306.4 C836.8,309.1 838.7,309.0 840.2,308.8 C841.7,308.6 842.6,306.6 843.6,305.3 C844.6,304.0 845.2,300.6 846.0,301.8 C846.8,303.0 847.0,310.1 847.8,311.8 C848.6,313.5 849.6,313.0 850.6,311.1 C851.6,309.2 852.1,302.9 853.4,301.1 C854.7,299.3 856.0,301.3 857.6,301.1 C859.2,300.9 860.6,299.9 862.3,299.9 C864.0,299.9 865.5,300.3 867.0,301.1 C868.5,301.9 869.2,303.8 870.5,304.1 C871.8,304.4 872.8,302.6 874.0,302.5 C875.2,302.4 876.1,303.5 877.4,303.4 C878.7,303.3 879.7,302.6 881.0,301.8 C882.3,301.0 882.9,298.7 884.4,298.7 C885.9,298.7 887.5,301.7 889.1,301.8 C890.7,301.9 892.1,298.0 893.1,299.0 C894.1,300.0 894.1,304.2 894.9,307.6 C895.7,311.0 896.4,316.0 897.7,318.1 C899.0,320.2 900.1,319.2 901.9,319.3 C903.7,319.4 906.3,318.4 907.8,318.8 C909.3,319.2 908.9,321.3 910.1,321.6 C911.3,321.9 913.2,320.8 914.7,320.4 C916.2,320.0 916.9,320.1 918.2,319.3 C919.5,318.5 920.2,316.6 921.7,315.8 C923.2,315.0 924.9,315.7 926.4,315.1 C927.9,314.5 928.4,312.9 929.9,312.3 C931.4,311.7 933.1,311.4 934.6,311.8 C936.1,312.2 936.8,314.7 938.1,314.6 C939.4,314.5 940.4,311.9 941.6,311.1 C942.8,310.3 943.5,310.3 945.0,309.9 C946.5,309.5 948.4,309.7 949.7,308.9 C951.0,308.1 951.0,306.0 952.0,305.4 C953.0,304.8 954.5,305.0 955.5,305.4 C956.5,305.8 957.0,307.9 957.8,307.7 C958.6,307.5 959.2,304.4 960.2,304.2 C961.2,304.0 962.1,307.9 963.2,306.6 C964.3,305.3 965.3,299.3 966.4,297.2 C967.5,295.1 968.3,294.9 969.5,294.9 C970.7,294.9 971.6,298.1 973.0,297.2 C974.4,296.3 975.5,291.3 977.2,289.8 C978.9,288.3 980.8,288.9 982.3,289.1 C983.8,289.3 984.3,291.5 985.8,290.7 C987.3,289.9 989.0,287.4 990.5,284.4 C992.0,281.4 992.8,276.4 994.0,273.9 C995.2,271.4 996.1,271.0 997.4,270.4 C998.7,269.8 999.9,273.1 1001.0,270.4 C1002.1,267.7 1002.3,259.0 1003.3,255.3 C1004.3,251.6 1005.5,251.2 1006.8,250.1 C1008.1,249.0 1008.9,249.7 1010.3,249.4 C1011.7,249.1 1013.5,252.5 1014.5,248.3 C1015.5,244.1 1015.2,229.9 1016.1,226.1 C1017.0,222.3 1018.6,230.3 1019.6,227.3 C1020.6,224.3 1020.5,211.7 1021.5,209.6 C1022.5,207.5 1024.0,215.2 1025.3,215.4 C1026.6,215.6 1027.4,212.0 1028.9,210.5 C1030.4,209.0 1032.2,207.8 1033.6,206.8 C1035.0,205.8 1035.3,204.9 1036.5,205.2 C1037.7,205.5 1038.9,204.3 1040.4,208.6 C1041.9,212.9 1043.5,226.2 1044.8,229.0 C1046.1,231.8 1046.7,222.2 1047.7,224.2 C1048.7,226.2 1049.1,238.7 1050.1,240.2 C1051.1,241.7 1051.9,233.4 1053.0,232.4 C1054.1,231.4 1054.3,239.9 1056.4,234.8 C1058.5,229.7 1063.2,209.7 1064.7,204.2" fill="none" stroke="#ee4232" stroke-width="1.35" stroke-linejoin="round" stroke-linecap="round"/>
<circle cx="329.5" cy="412" r="3.8" fill="#0aa839"/>
<circle cx="705.8" cy="169" r="3.6" fill="#e53935"/>
<circle cx="1033.3" cy="169" r="3.6" fill="#e53935"/>
<text x="329.5" y="438" text-anchor="middle" font-size="11" fill="#555">Apr 05, &#39;24</text>
<text x="475.3" y="438" text-anchor="middle" font-size="11" fill="#555">Jul 31, &#39;24</text>
<text x="621.3" y="438" text-anchor="middle" font-size="11" fill="#555">Dec 02, &#39;24</text>
<text x="767.1" y="438" text-anchor="middle" font-size="11" fill="#555">May 12, &#39;25</text>
<text x="913.3" y="438" text-anchor="middle" font-size="11" fill="#555">Sep 24, &#39;25</text>
<text x="1066" y="438" text-anchor="end" font-size="11" fill="#555">Jan 29, &#39;26</text>
<line x1="327" x2="343" y1="467" y2="467" stroke="#fcd36a" stroke-width="2"/>
<text x="348.5" y="471" font-size="11" fill="#555">エクイティの成長</text>
<line x1="506.7" x2="522.7" y1="467" y2="467" stroke="#ef8677" stroke-width="2"/>
<text x="528" y="471" font-size="11" fill="#555">成長</text>
<circle cx="694.8" cy="467" r="3.6" fill="#0aa839"/>
<text x="709" y="471" font-size="11" fill="#555">デポジット</text>
<circle cx="874.3" cy="467" r="3.6" fill="#e53935"/>
<text x="888" y="471" font-size="11" fill="#555">引き出し</text>
</svg>
</body></html>
